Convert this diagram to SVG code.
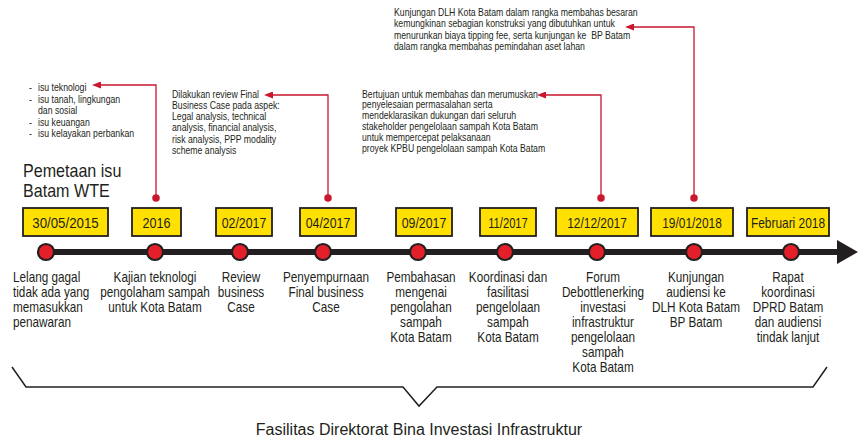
<svg xmlns="http://www.w3.org/2000/svg" width="860" height="439" viewBox="0 0 860 439">
<defs>
<style>
text{font-family:"Liberation Sans",Arial,sans-serif;fill:#231f20}
.sm{font-size:10.5px}
.lbl{font-size:14px;text-anchor:middle}
.date{font-size:14px;text-anchor:middle}
.box{fill:#FFE000;stroke:#231f20;stroke-width:1.8}
.dot{fill:#E3202A;stroke:#231f20;stroke-width:2.2}
.con{fill:none;stroke:#C8172F;stroke-width:1.3}
</style>
<marker id="ah" viewBox="0 0 10 10" refX="0" refY="5" markerWidth="9" markerHeight="7" markerUnits="userSpaceOnUse" orient="auto-start-reverse" preserveAspectRatio="none">
<path d="M0,0 L10,5 L0,10 z" fill="#C8172F"/>
</marker>
<marker id="cd" viewBox="0 0 8 8" refX="4" refY="4" markerWidth="7.5" markerHeight="7.5" markerUnits="userSpaceOnUse">
<circle cx="4" cy="4" r="4" fill="#C8172F"/>
</marker>
</defs>
<rect width="860" height="439" fill="#ffffff"/>

<g id="timeline">
<line x1="46" y1="252" x2="840" y2="252" stroke="#231f20" stroke-width="6"/>
<polygon points="837,240 858,252 837,264" fill="#231f20"/>
</g>

<g id="connectors">
<path class="con" d="M101,85 H156 V198" marker-start="url(#ah)" marker-end="url(#cd)"/>
<path class="con" d="M273,95 H328 V198" marker-start="url(#ah)" marker-end="url(#cd)"/>
<path class="con" d="M546,95 H601 V198" marker-start="url(#ah)" marker-end="url(#cd)"/>
<path class="con" d="M634,27 H694 V198" marker-start="url(#ah)" marker-end="url(#cd)"/>
</g>

<g id="notes">
<g id="note-isu">
<text class="sm" transform="translate(29 91) scale(0.83 1)"><tspan x="0">-</tspan><tspan x="0" dy="11.6">-</tspan><tspan x="0" dy="23.2">-</tspan><tspan x="0" dy="11.6">-</tspan></text>
<text class="sm" transform="translate(38 91) scale(0.83 1)"><tspan x="0">isu teknologi</tspan><tspan x="0" dy="11.6">isu tanah, lingkungan</tspan><tspan x="0" dy="11.6">dan sosial</tspan><tspan x="0" dy="11.6">isu keuangan</tspan><tspan x="0" dy="11.6">isu kelayakan perbankan</tspan></text>
</g>
<g id="note-review">
<text class="sm" transform="translate(172 97.5) scale(0.83 1)"><tspan x="0">Dilakukan review Final</tspan><tspan x="0" dy="11.3">Business Case pada aspek:</tspan><tspan x="0" dy="11.3">Legal analysis, technical</tspan><tspan x="0" dy="11.3">analysis, financial analysis,</tspan><tspan x="0" dy="11.3">risk analysis, PPP modality</tspan><tspan x="0" dy="11.3">scheme analysis</tspan></text>
</g>
<g id="note-forum">
<text class="sm" transform="translate(362 97.5) scale(0.83 1)"><tspan x="0">Bertujuan untuk membahas dan merumuskan</tspan><tspan x="0" dy="10.9">penyelesaian permasalahan serta</tspan><tspan x="0" dy="10.9">mendeklarasikan dukungan dari seluruh</tspan><tspan x="0" dy="10.9">stakeholder pengelolaan sampah Kota Batam</tspan><tspan x="0" dy="10.9">untuk mempercepat pelaksanaan</tspan><tspan x="0" dy="10.9">proyek KPBU pengelolaan sampah Kota Batam</tspan></text>
</g>
<g id="note-kunjungan">
<text class="sm" transform="translate(394 16) scale(0.83 1)" xml:space="preserve"><tspan x="0">Kunjungan DLH Kota Batam dalam rangka membahas besaran</tspan><tspan x="0" dy="11.4">kemungkinan sebagian konstruksi yang dibutuhkan untuk</tspan><tspan x="0" dy="11.4">menurunkan biaya tipping fee, serta kunjungan ke  BP Batam</tspan><tspan x="0" dy="11.4">dalam rangka membahas pemindahan aset lahan</tspan></text>
</g>
<g id="title">
<text font-size="17.5" transform="translate(23 177) scale(0.92 1)"><tspan x="0">Pemetaan isu</tspan><tspan x="0" dy="20">Batam WTE</tspan></text>
</g>
</g>

<g id="n1">
<rect class="box" x="23" y="208" width="85" height="28"/>
<text class="date" transform="translate(65.5 227.5) scale(0.95 1)">30/05/2015</text>
<circle class="dot" cx="46" cy="252" r="8"/>
<text style="font-size:14px" transform="translate(13 282) scale(0.84 1)"><tspan x="0">Lelang gagal</tspan><tspan x="0" dy="15">tidak ada yang</tspan><tspan x="0" dy="15">memasukkan</tspan><tspan x="0" dy="15">penawaran</tspan></text>
</g>
<g id="n2">
<rect class="box" x="132" y="208" width="49" height="28"/>
<text class="date" transform="translate(156.5 227.5) scale(0.9 1)">2016</text>
<circle class="dot" cx="155" cy="252" r="8"/>
<text class="lbl" transform="translate(155 282) scale(0.84 1)"><tspan x="0">Kajian teknologi</tspan><tspan x="0" dy="15">pengolaham sampah</tspan><tspan x="0" dy="15">untuk Kota Batam</tspan></text>
</g>
<g id="n3">
<rect class="box" x="216" y="208" width="56" height="28"/>
<text class="date" transform="translate(244 227.5) scale(0.88 1)">02/2017</text>
<circle class="dot" cx="240" cy="252" r="8"/>
<text class="lbl" transform="translate(241 282) scale(0.84 1)"><tspan x="0">Review</tspan><tspan x="0" dy="15">business</tspan><tspan x="0" dy="15">Case</tspan></text>
</g>
<g id="n4">
<rect class="box" x="300" y="208" width="56" height="28"/>
<text class="date" transform="translate(328 227.5) scale(0.88 1)">04/2017</text>
<circle class="dot" cx="323" cy="252" r="8"/>
<text class="lbl" transform="translate(326 282) scale(0.84 1)"><tspan x="0">Penyempurnaan</tspan><tspan x="0" dy="15">Final business</tspan><tspan x="0" dy="15">Case</tspan></text>
</g>
<g id="n5">
<rect class="box" x="396" y="208" width="56" height="28"/>
<text class="date" transform="translate(424 227.5) scale(0.88 1)">09/2017</text>
<circle class="dot" cx="418" cy="252" r="8"/>
<text class="lbl" transform="translate(421 282) scale(0.84 1)"><tspan x="0">Pembahasan</tspan><tspan x="0" dy="15">mengenai</tspan><tspan x="0" dy="15">pengolahan</tspan><tspan x="0" dy="15">sampah</tspan><tspan x="0" dy="15">Kota Batam</tspan></text>
</g>
<g id="n6">
<rect class="box" x="480" y="208" width="56" height="28"/>
<text class="date" transform="translate(508 227.5) scale(0.8 1)">11/2017</text>
<circle class="dot" cx="505" cy="252" r="8"/>
<text class="lbl" transform="translate(508 282) scale(0.84 1)"><tspan x="0">Koordinasi dan</tspan><tspan x="0" dy="15">fasilitasi</tspan><tspan x="0" dy="15">pengelolaan</tspan><tspan x="0" dy="15">sampah</tspan><tspan x="0" dy="15">Kota Batam</tspan></text>
</g>
<g id="n7">
<rect class="box" x="556" y="208" width="82" height="28"/>
<text class="date" transform="translate(597 227.5) scale(0.85 1)">12/12/2017</text>
<circle class="dot" cx="597" cy="252" r="8"/>
<text class="lbl" transform="translate(603 282) scale(0.84 1)"><tspan x="0">Forum</tspan><tspan x="0" dy="15">Debottlenerking</tspan><tspan x="0" dy="15">investasi</tspan><tspan x="0" dy="15">infrastruktur</tspan><tspan x="0" dy="15">pengelolaan</tspan><tspan x="0" dy="15">sampah</tspan><tspan x="0" dy="15">Kota Batam</tspan></text>
</g>
<g id="n8">
<rect class="box" x="651" y="208" width="82" height="28"/>
<text class="date" transform="translate(692 227.5) scale(0.85 1)">19/01/2018</text>
<circle class="dot" cx="694" cy="252" r="8"/>
<text class="lbl" transform="translate(696 282) scale(0.84 1)"><tspan x="0">Kunjungan</tspan><tspan x="0" dy="15">audiensi ke</tspan><tspan x="0" dy="15">DLH Kota Batam</tspan><tspan x="0" dy="15">BP Batam</tspan></text>
</g>
<g id="n9">
<rect class="box" x="747" y="208" width="82" height="28"/>
<text class="date" transform="translate(788 227.5) scale(0.85 1)">Februari 2018</text>
<circle class="dot" cx="791" cy="252" r="8"/>
<text class="lbl" transform="translate(788 282) scale(0.84 1)"><tspan x="0">Rapat</tspan><tspan x="0" dy="15">koordinasi</tspan><tspan x="0" dy="15">DPRD Batam</tspan><tspan x="0" dy="15">dan audiensi</tspan><tspan x="0" dy="15">tindak lanjut</tspan></text>
</g>

<g id="brace">
<polyline points="12,367 26,387 403,387 419,406 437,387 813,387 827,367" fill="none" stroke="#231f20" stroke-width="1.5"/>
<text font-size="16" text-anchor="middle" x="419" y="435">Fasilitas Direktorat Bina Investasi Infrastruktur</text>
</g>
</svg>
